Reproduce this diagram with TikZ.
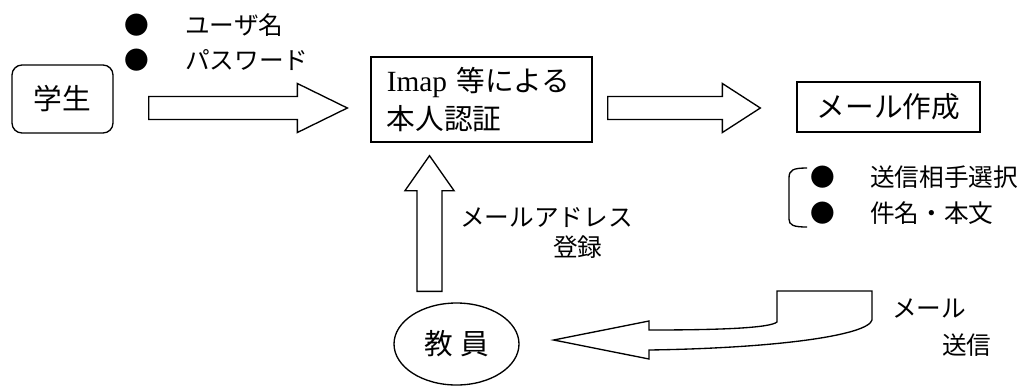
\documentclass[tikz,border=0pt]{standalone}
\usepackage{fontspec}
\setmainfont{Liberation Serif}
\newfontfamily\jp{Noto Sans CJK JP}
\usetikzlibrary{calc,shapes.geometric}
\tikzset{
  big/.style={font=\jp\fontsize{21.5pt}{28.5pt}\selectfont},
  small/.style={font=\jp\fontsize{18.5pt}{22pt}\selectfont},
  lbl/.style={small, inner sep=0pt, anchor=west},
  bul/.style={small, inner sep=0pt, anchor=center},
  box/.style={draw, line width=1pt, big, inner sep=0pt},
  blk/.style={draw, line width=1pt, line join=miter, fill=white},
}
\newcommand\barrow[5]{%
  \coordinate (bh) at ($(#2)!#5!(#1)$);
  \draw[blk] ($(#1)!#3!90:(#2)$) -- ($(bh)!#3!90:(#2)$) -- ($(bh)!#4!90:(#2)$) -- (#2)
    -- ($(bh)!#4!-90:(#2)$) -- ($(bh)!#3!-90:(#2)$) -- ($(#1)!#3!-90:(#2)$) -- cycle;}
\begin{document}
\begin{tikzpicture}[x=0.75pt,y=-0.75pt]
\useasboundingbox (0,0) rectangle (1027,387);
% nodes
\node[box, rounded corners=7.5pt, minimum width=75.75pt, minimum height=51pt] (st) at (62.5,99) {学生};
\node[box, minimum width=165.75pt, minimum height=63.75pt, align=left, text width=142pt, inner xsep=11.5pt] (im) at (481.5,99.5)
  {{\rmfamily\fontsize{22pt}{28.5pt}\selectfont Imap} 等による\\本人認証};
\node[box, minimum width=137.25pt, minimum height=37.5pt] (ml) at (888.5,107) {メール作成};
\node[box, ellipse, minimum width=93.75pt, minimum height=61.5pt] (ky) at (456.5,344) {教\hspace{0.25em}員};
% bullet labels
\node[bul] (b1) at (137,25) {●};
\node[lbl] (t1) at (185,25) {ユーザ名};
\node[bul] (b2) at (137,60) {●};
\node[lbl] (t2) at (185,60) {パスワード};
\node[bul] (b3) at (823,177) {●};
\node[lbl] (t3) at (870,177) {送信相手選択};
\node[bul] (b4) at (823,213) {●};
\node[lbl] (t4) at (870,213) {件名・本文};
\node[lbl] (t5) at (460,218) {メールアドレス};
\node[lbl] (t6) at (553,247) {登録};
\node[lbl] (t7) at (892,308) {メール};
\node[lbl] (t8) at (942,345) {送信};
% bracket
\coordinate (k1) at ($(b3)+(-16,-9)$);
\coordinate (k2) at ($(b4)+(-16,14)$);
\draw[line width=1pt] (k1) .. controls ($(k1)+(-14,0)$) and ($(k1)+(-18,2)$) .. ($(k1)+(-18,10)$)
  -- ($(k2)+(-18,-8)$) .. controls ($(k2)+(-18,-2)$) and ($(k2)+(-14,0)$) .. (k2);
% block arrows
\coordinate (a1s) at ($(st.east)+(35,9)$);
\coordinate (a1e) at ($(im.west)+(-23,8.5)$);
\barrow{a1s}{a1e}{8.6pt}{18.4pt}{37.5pt}
\coordinate (a2s) at ($(im.east)+(15,8.5)$);
\coordinate (a2e) at ($(ml.west)+(-36,1)$);
\barrow{a2s}{a2e}{8.6pt}{18.4pt}{28.5pt}
\coordinate (a3s) at ($(ky.north)+(-27,-11)$);
\coordinate (a3e) at ($(im.south)+(-52,13)$);
\barrow{a3s}{a3e}{9.4pt}{18.4pt}{26.25pt}
% curved send arrow
\coordinate (a4e) at ($(ky.east)+(34,-4)$);
\draw[blk] (a4e) -- (649,321) -- (649,330) .. controls (720,330) and (770,328) .. (777,322)
  -- (777,291) -- (872,291) -- (872,320) .. controls (868,335) and (780,348) .. (649,350)
  -- (649,359) -- cycle;
\end{tikzpicture}
\end{document}
